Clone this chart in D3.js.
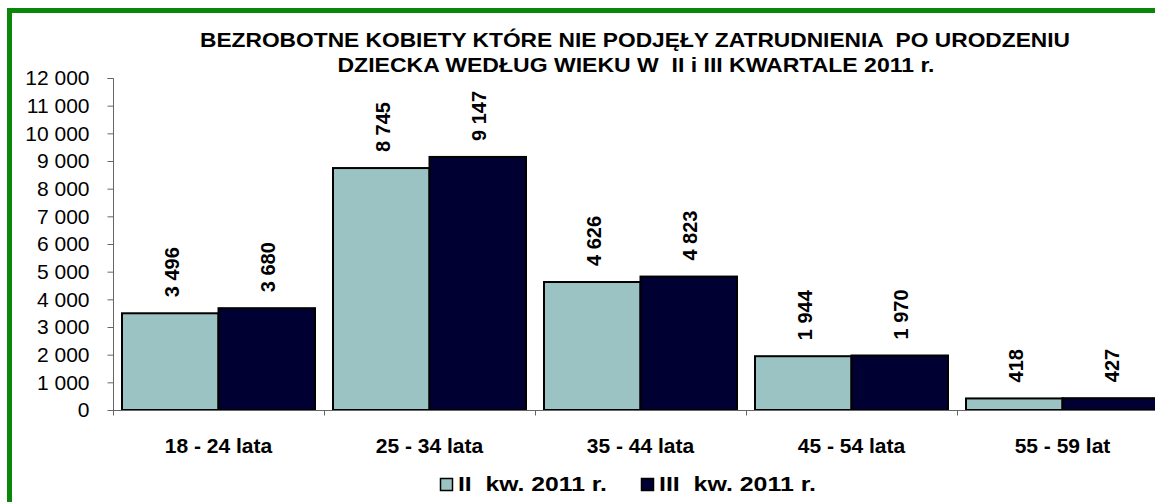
<!DOCTYPE html>
<html><head><meta charset="utf-8">
<script src="https://cdn.jsdelivr.net/npm/d3@7"></script>
<style>body{margin:0;background:#fff;overflow:hidden}svg{display:block}text{font-family:"Liberation Sans",Arial,sans-serif;fill:#000;white-space:pre}</style>
</head><body>
<svg id="c" width="1155" height="502"></svg>
<script>
const titleLines = ["BEZROBOTNE KOBIETY KTÓRE NIE PODJĘŁY ZATRUDNIENIA  PO URODZENIU", "DZIECKA WEDŁUG WIEKU W  II i III KWARTALE 2011 r."];
const categories = ["18 - 24 lata", "25 - 34 lata", "35 - 44 lata", "45 - 54 lata", "55 - 59 lat"];
const seriesNames = ["II  kw. 2011 r.", "III  kw. 2011 r."];
const seriesII = [3496, 8745, 4626, 1944, 418];
const seriesIII = [3680, 9147, 4823, 1970, 427];
const yTicks = [0,1000,2000,3000,4000,5000,6000,7000,8000,9000,10000,11000,12000];
const colors = ["#9CC3C3", "#000033"];

const svg = d3.select("#c");
svg.append("rect").attr("width",1155).attr("height",502).attr("fill","#fff");
svg.append("rect").attr("x",9.5).attr("y",10.5).attr("width",2000).attr("height",1000)
  .attr("fill","none").attr("stroke","#0a870a").attr("stroke-width",5);

const pLeft = 113, step = 211, pTop = 78, pBottom = 410;
const x = d3.scaleBand().domain(categories).range([pLeft, pLeft + step*categories.length]).padding(0);
const y = d3.scaleLinear().domain([0,12000]).range([pBottom, pTop]);
const fmt = v => d3.format(",")(v).replace(/,/g, " ");

// title
const titleSpec = [{x:635, y:47, w:870}, {x:636, y:72, w:597}];
titleLines.forEach((t,i)=>{
  svg.append("text").attr("x",titleSpec[i].x).attr("y",titleSpec[i].y).attr("text-anchor","middle")
    .attr("textLength",titleSpec[i].w).attr("lengthAdjust","spacingAndGlyphs")
    .style("font-weight","bold").style("font-size","20.5px").text(t);
});

// y axis
const yAxis = d3.axisLeft(y).tickValues(yTicks).tickSize(6).tickPadding(18).tickFormat(fmt);
const gy = svg.append("g").attr("transform",`translate(${pLeft+0.5},0)`).call(yAxis);
gy.select(".domain").attr("stroke","#666").attr("d",`M-6,${pTop+0.5}H0V${pBottom+0.5}`);
gy.selectAll(".tick line").attr("stroke","#666");
gy.selectAll(".tick text").style("font-size","21px").style("font-family","'Liberation Sans',Arial,sans-serif").attr("fill","#000");

// bars
const inner = 9;
const bw = (step - 2*inner)/2;
const data = categories.map((c,i)=>({c, vals:[seriesII[i], seriesIII[i]]}));
const groups = svg.append("g").selectAll("g").data(data).join("g");
groups.each(function(d){
  const g = d3.select(this);
  d.vals.forEach((v,j)=>{
    const bx = x(d.c) + inner + j*bw;
    g.append("rect").attr("x",bx).attr("y",y(v)).attr("width",bw).attr("height",pBottom - y(v))
      .attr("fill",colors[j]).attr("stroke","#000").attr("stroke-width",2);
    const cx = bx + bw/2 + 8.5;
    g.append("text").attr("transform",`translate(${cx},${y(v)-16}) rotate(-90)`)
      .style("font-weight","bold").style("font-size","20px").text(fmt(v));
  });
});

// x axis
const gx = svg.append("g").attr("transform",`translate(0,${pBottom+0.5})`);
gx.append("line").attr("x1",pLeft).attr("x2",pLeft+step*5).attr("stroke","#666");
gx.selectAll(".tk").data(d3.range(0,6)).join("line")
  .attr("x1",i=>pLeft+i*step+0.5).attr("x2",i=>pLeft+i*step+0.5).attr("y1",0).attr("y2",5).attr("stroke","#666");
gx.selectAll(".lbl").data(categories).join("text")
  .attr("x",c=>x(c)+x.bandwidth()/2).attr("y",42).attr("text-anchor","middle")
  .style("font-weight","bold").style("font-size","21px").text(c=>c);

// legend
const legSpec = [{x:440, w:149}, {x:641, w:157}];
seriesNames.forEach((n,i)=>{
  svg.append("rect").attr("x",legSpec[i].x+0.5).attr("y",478.5).attr("width",12).attr("height",12)
    .attr("fill",colors[i]).attr("stroke","#000").attr("stroke-width",1.5);
  svg.append("text").attr("x",legSpec[i].x+18).attr("y",491)
    .attr("textLength",legSpec[i].w).attr("lengthAdjust","spacingAndGlyphs")
    .style("font-weight","bold").style("font-size","21px").text(n);
});
</script>
</body></html>
